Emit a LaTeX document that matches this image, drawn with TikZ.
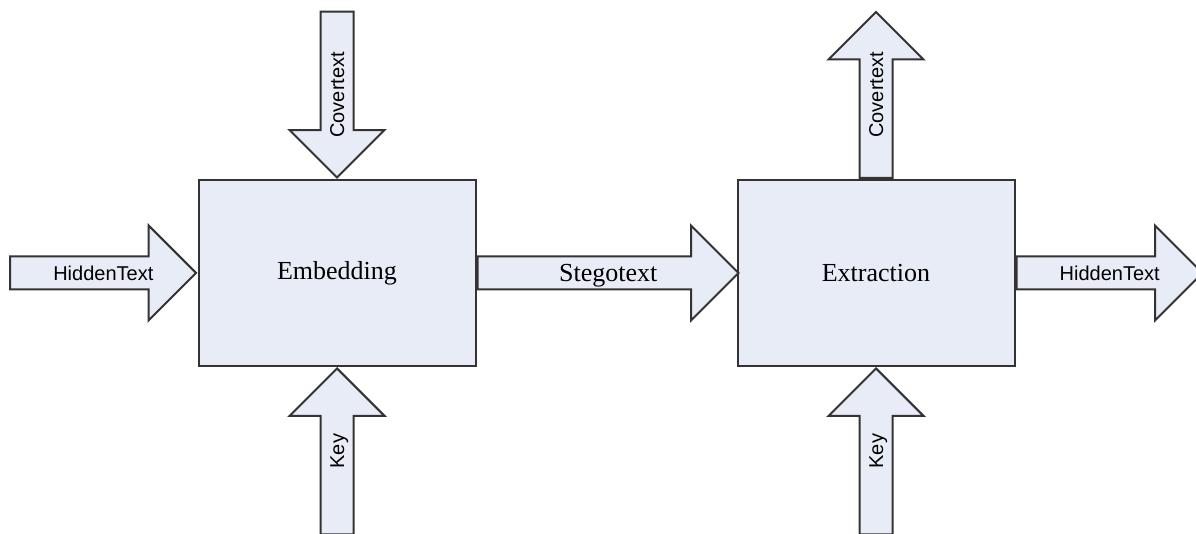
\documentclass[tikz,border=0pt]{standalone}
\usepackage{fontspec}
\setmainfont{Liberation Serif}
\setsansfont{Liberation Sans}
\usetikzlibrary{shapes.arrows, calc}
\definecolor{boxfill}{HTML}{E8ECF7}
\definecolor{boxline}{HTML}{333333}
\tikzset{
block/.style={draw=boxline, line width=1pt, fill=boxfill, minimum width=138.5pt, minimum height=93pt, font=\fontsize{13}{15}\selectfont},
fat/.style={single arrow, draw=boxline, line width=1pt, fill=boxfill, single arrow head extend=15.5pt, single arrow tip angle=90, text height=7.2pt, text depth=0pt, inner ysep=4.15pt},
lbl/.style={inner sep=0pt, text height=7.2pt, text depth=0pt, font=\sffamily\fontsize{10}{12}\selectfont},
}

\begin{document}
\begin{tikzpicture}[x=0.5pt, y=-0.5pt]
    \useasboundingbox (0,0) rectangle (1196,534);
    \node[block] (embed) at (337,273) {Embedding};
    \node[block] (extract) at (876,273) {Extraction};
    % into the embedding
    \node[fat, anchor=tip, minimum height=93pt] (hidein) at (embed.west) {};
    \node[fat, rotate=90, shape border rotate=180, anchor=tip, minimum height=83pt] (coverin) at (embed.north) {};
    \node[fat, rotate=90, anchor=tip, minimum height=83pt] (keyin) at (embed.south) {};
    % between the two
    \node[fat, anchor=tail, minimum height=130.5pt] (stego) at (embed.east) {};
    % out of the extraction
    \node[fat, rotate=90, anchor=tail, minimum height=83pt] (coverout) at (extract.north) {};
    \node[fat, rotate=90, anchor=tip, minimum height=83pt] (keyout) at (extract.south) {};
    \node[fat, anchor=tail, minimum height=93pt] (hideout) at (extract.east) {};
    % labels
    \node[lbl] (hideinl) at ($(hidein.tail)!.5!(hidein.tip)$) {HiddenText};
    \node[lbl, rotate=90] (coverinl) at ($(coverin.tail)!.5!(coverin.tip)$) {Covertext};
    \node[lbl, rotate=90] (keyinl) at ($(keyin.tail)!.5!(keyin.tip)$) {Key};
    \node[lbl, text height=8.6pt, font=\rmfamily\fontsize{13}{15}\selectfont] (stegol) at ($(stego.tail)!.5!(stego.tip)$) {Stegotext};
    \node[lbl, rotate=90] (coveroutl) at ($(coverout.tail)!.5!(coverout.tip)$) {Covertext};
    \node[lbl, rotate=90] (keyoutl) at ($(keyout.tail)!.5!(keyout.tip)$) {Key};
    \node[lbl] (hideoutl) at ($(hideout.tail)!.5!(hideout.tip)$) {HiddenText};
\end{tikzpicture}
\end{document}
